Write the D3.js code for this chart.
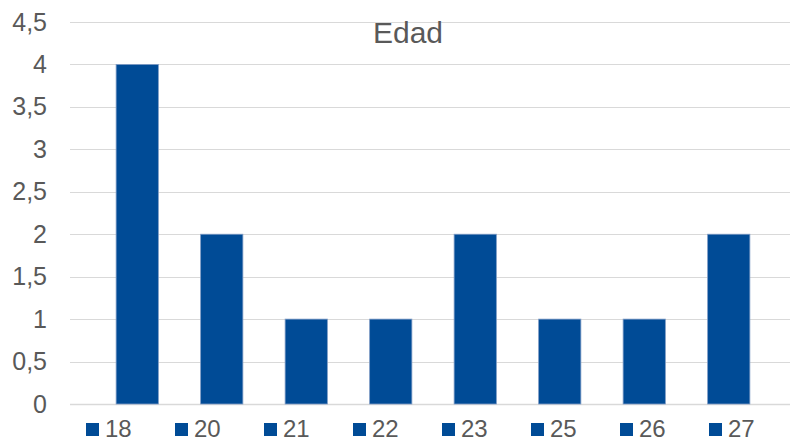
<!DOCTYPE html>
<html>
<head>
<meta charset="utf-8">
<script src="https://cdn.jsdelivr.net/npm/d3@7"></script>
<style>
  body { margin: 0; background: #fff; }
  text { font-family: "Liberation Sans", Arial, sans-serif; fill: #595959; }
</style>
</head>
<body>
<div id="chart-area"><svg></svg></div>
<script>
const chartSize = { width: 790, height: 441 };
const title = 'Edad';
const ages = ['18', '20', '21', '22', '23', '25', '26', '27'];
const counts = [4, 2, 1, 1, 2, 1, 1, 2];
const yTicks = [0, 0.5, 1, 1.5, 2, 2.5, 3, 3.5, 4, 4.5];

const barColor = '#004b96';
const gridColor = '#d9d9d9';

const svg = d3.select('#chart-area svg')
  .attr('width', chartSize.width)
  .attr('height', chartSize.height);

const x = d3.scaleBand()
  .domain(ages)
  .range([95, 771])
  .paddingInner(0.5)
  .paddingOuter(0.25);

const y = d3.scaleLinear()
  .domain([0, 4.5])
  .range([404, 22]);

const fmt = d => String(d).replace('.', ',');

// gridlines
svg.append('g')
  .selectAll('line').data(yTicks).enter()
  .append('line')
  .attr('x1', 70).attr('x2', 790)
  .attr('y1', d => Math.round(y(d)) + 0.5)
  .attr('y2', d => Math.round(y(d)) + 0.5)
  .attr('stroke', gridColor)
  .attr('stroke-width', d => d === 0 ? 1.5 : 1.2);

// y axis labels
const yAxis = d3.axisLeft(y).tickValues(yTicks).tickFormat(fmt).tickSize(0).tickPadding(0);
const ga = svg.append('g')
  .attr('transform', 'translate(47,0)')
  .call(yAxis);
ga.select('.domain').remove();
ga.selectAll('text')
  .attr('font-size', 25)
  .attr('fill', '#595959')
  .attr('font-family', '"Liberation Sans", Arial, sans-serif');

// bars
svg.append('g')
  .selectAll('rect').data(ages).enter()
  .append('rect')
  .attr('x', d => x(d))
  .attr('width', x.bandwidth())
  .attr('y', (d, i) => y(counts[i]))
  .attr('height', (d, i) => y(0) - y(counts[i]))
  .attr('fill', barColor)
  .attr('stroke', '#7f9cc6')
  .attr('stroke-width', 0.8);

// title
svg.append('text')
  .attr('x', 408)
  .attr('y', 43)
  .attr('text-anchor', 'middle')
  .attr('font-size', 30)
  .text(title);

// legend
const legend = svg.append('g')
  .selectAll('g').data(ages).enter()
  .append('g')
  .attr('transform', (d, i) => `translate(${86 + i * 89},0)`);

legend.append('rect')
  .attr('x', 0).attr('y', 423)
  .attr('width', 13).attr('height', 13)
  .attr('fill', barColor);

legend.append('text')
  .attr('x', 19)
  .attr('y', 437)
  .attr('font-size', 24)
  .text(d => d);
</script>
</body>
</html>
